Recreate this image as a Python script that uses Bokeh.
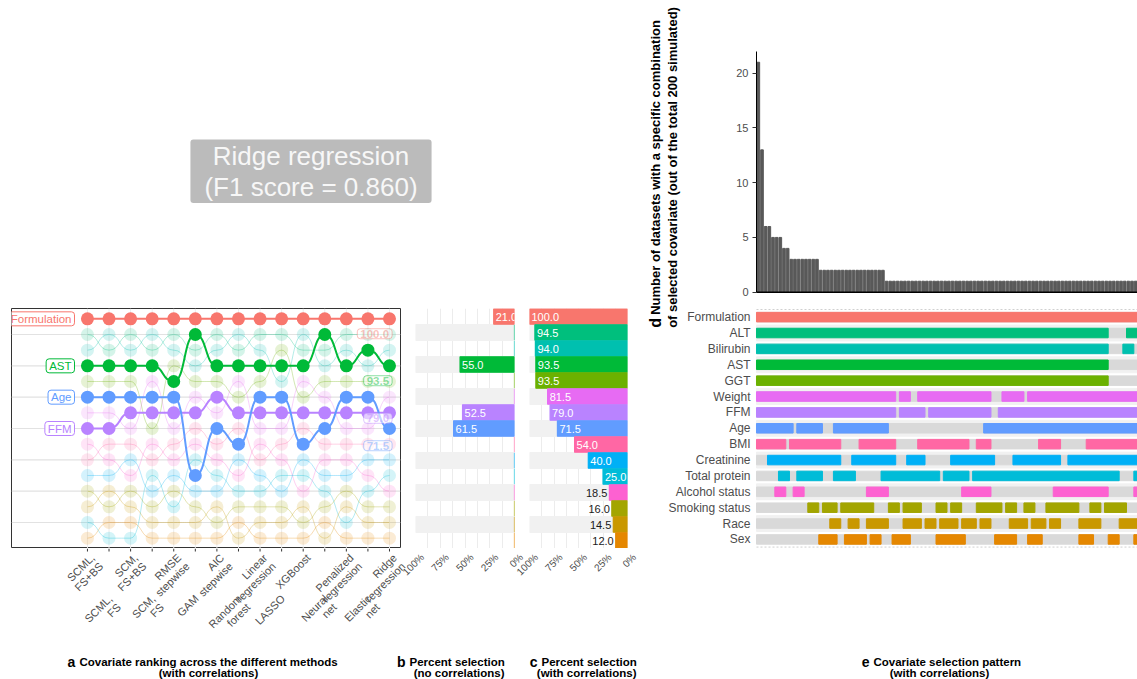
import math
from bokeh.plotting import figure
from bokeh.models import Range1d, Label, Span, FixedTicker, LinearAxis
from bokeh.layouts import row, column
from bokeh.embed import file_html
from bokeh.resources import INLINE
from bokeh.core.properties import value

FONT = "Liberation Sans"
GRAY_TXT = "#4d4d4d"

# ---------------- data ----------------
covariates = ["Formulation", "ALT", "Bilirubin", "AST", "GGT", "Weight", "FFM", "Age",
              "BMI", "Creatinine", "Total protein", "Alcohol status", "Smoking status",
              "Race", "Sex"]
cov_colors = ["#F8766D", "#00BF7D", "#00C0AF", "#00BA38", "#6BB100", "#E76BF3", "#B983FF",
              "#619CFF", "#FF67A4", "#00B0F6", "#00BCD8", "#FD61D1", "#A3A500", "#C99800",
              "#E58700"]
methods = ["SCML,\nFS+BS", "SCML,\nFS", "SCM,\nFS+BS", "SCM,\nFS", "RMSE\nstepwise", "GAM",
           "AIC\nstepwise", "Random\nforest", "Linear\nregression", "LASSO", "XGBoost",
           "Neural\nnet", "Penalized\nregression", "Elastic\nnet", "Ridge\nregression"]

# rank of each covariate for each method (panel a)
ranks = {
    "Formulation":    [1, 1, 1, 1, 1, 1, 1, 1, 1, 1, 1, 1, 1, 1, 1],
    "ALT":            [2, 3, 2, 3, 2, 3, 2, 3, 2, 2, 3, 3, 2, 2, 2],
    "Bilirubin":      [3, 2, 3, 2, 3, 4, 3, 2, 3, 5, 2, 4, 3, 4, 3],
    "AST":            [4, 4, 4, 4, 5, 2, 4, 4, 4, 4, 4, 2, 4, 3, 4],
    "GGT":            [5, 5, 5, 8, 4, 5, 5, 6, 5, 3, 6, 5, 5, 5, 5],
    "Weight":         [7, 7, 8, 5, 8, 6, 7, 5, 8, 8, 5, 6, 8, 8, 6],
    "FFM":            [8, 8, 7, 7, 7, 7, 6, 7, 7, 7, 7, 7, 7, 7, 7],
    "Age":            [6, 6, 6, 6, 6, 11, 8, 9, 6, 6, 9, 8, 6, 6, 8],
    "BMI":            [10, 9, 9, 10, 9, 8, 9, 8, 10, 9, 8, 9, 9, 9, 9],
    "Creatinine":     [11, 11, 10, 12, 11, 12, 12, 10, 11, 12, 10, 11, 11, 10, 10],
    "Total protein":  [14, 15, 15, 11, 13, 10, 11, 12, 12, 11, 11, 12, 14, 12, 11],
    "Alcohol status": [9, 10, 11, 9, 10, 9, 10, 11, 9, 10, 12, 10, 10, 11, 12],
    "Smoking status": [12, 13, 12, 13, 12, 13, 14, 13, 13, 13, 14, 13, 12, 13, 13],
    "Race":           [13, 12, 13, 14, 14, 14, 13, 15, 14, 14, 13, 15, 13, 14, 14],
    "Sex":            [15, 14, 14, 15, 15, 15, 15, 14, 15, 15, 15, 14, 15, 15, 15],
}
highlight = ["Formulation", "AST", "Age", "FFM"]
label_nudge = {"Formulation": 0.95, "AST": 0.95, "Age": 1.1, "FFM": 0.35}

# panel b / c
pct_no_corr = [21.0, 0, 0, 55.0, 0, 0, 52.5, 61.5, 0, 0, 0, 0, 0, 0, 0]
pct_corr = [100.0, 94.5, 94.0, 93.5, 93.5, 81.5, 79.0, 71.5, 54.0, 40.0, 25.0, 18.5,
            16.0, 14.5, 12.0]
pct_ticks = [100, 75, 50, 25, 0]
pct_labels = ["100%", "75%", "50%", "25%", "0%"]

# panel d: datasets per combination
combo_counts = [21, 13, 6, 6, 5, 5, 5, 4, 4,
                3, 3, 3, 3, 3, 3, 3, 3,
                2, 2, 2, 2, 2, 2, 2, 2, 2, 2, 2, 2, 2, 2, 2, 2, 2, 2,
                1, 1, 1, 1, 1, 1, 1, 1, 1, 1, 1, 1, 1, 1, 1, 1, 1, 1, 1, 1, 1, 1, 1,
                1, 1, 1, 1, 1, 1, 1, 1, 1, 1, 1, 1, 1, 1, 1, 1, 1, 1, 1, 1, 1, 1, 1,
                1, 1, 1, 1, 1, 1, 1, 1, 1, 1, 1, 1, 1, 1, 1, 1, 1, 1, 1, 1, 1, 1, 1]
d_ticks = [0, 5, 10, 15, 20]
d_label_1 = "Number of datasets with a specific combination"
d_label_2 = "of selected covariate (out of the total 200 simulated)"

# panel e: selected column runs (start, end) per covariate
sel_segments = {
    "Formulation": [(0, 104)],
    "ALT": [(0, 96), (101, 104)],
    "Bilirubin": [(0, 96), (100, 103)],
    "AST": [(0, 96)],
    "GGT": [(0, 96)],
    "Weight": [(0, 38), (39, 42), (44, 64), (67, 73), (74, 104)],
    "FFM": [(0, 38), (39, 46), (47, 64), (66, 104)],
    "Age": [(0, 10), (11, 18), (21, 36), (62, 104)],
    "BMI": [(0, 8), (9, 23), (28, 38), (44, 58), (60, 64), (77, 83), (90, 104)],
    "Creatinine": [(3, 23), (26, 38), (41, 46), (53, 65), (70, 83), (85, 104)],
    "Total protein": [(6, 9), (11, 18), (21, 27), (34, 50), (51, 58), (59, 99), (103, 104)],
    "Alcohol status": [(5, 8), (10, 13), (30, 36), (56, 64), (81, 96), (103, 104)],
    "Smoking status": [(14, 17), (18, 22), (23, 32), (36, 39), (40, 45), (49, 52), (53, 56),
                       (60, 67), (68, 71), (73, 76), (79, 88), (91, 94), (95, 101)],
    "Race": [(20, 23), (25, 28), (30, 36), (40, 45), (46, 49), (50, 55), (56, 60), (61, 64),
             (69, 74), (75, 79), (80, 83), (88, 94), (99, 104)],
    "Sex": [(17, 22), (24, 30), (31, 34), (37, 42), (49, 57), (65, 71), (74, 78), (88, 92),
            (96, 99), (103, 104)],
}

title_text = "Ridge regression\n(F1 score = 0.860)"

# ---------------- helpers ----------------
def base_fig(w, h, xr, yr, l=0, r=0, t=0, b=0, xloc=None, yloc=None):
    p = figure(width=w, height=h, x_range=xr, y_range=yr, toolbar_location=None,
               output_backend="svg", x_axis_location=xloc, y_axis_location=yloc,
               min_border_left=l, min_border_right=r, min_border_top=t, min_border_bottom=b)
    p.outline_line_color = None
    p.grid.visible = False
    return p

n_cov = len(covariates)
rows = list(range(1, n_cov + 1))
even_rows = [r_ for r_ in rows if r_ % 2 == 0]
cols = list(range(1, len(methods) + 1))

# ---------------- title ----------------
tfig = base_fig(640, 300, Range1d(0, 640), Range1d(-300, 0))
tfig.add_layout(Label(x=310.5, y=-170.8, text=title_text, text_align="center",
                      text_baseline="middle", text_font=FONT, text_font_size="26px",
                      text_color="#f7f7f7", text_line_height=1.05,
                      background_fill_color="#bbbbbb", padding=(14, 1), border_radius=3))

# ---------------- panel a ----------------
fa = base_fig(410, 248, Range1d(-2.52, 15.51), Range1d(15.66, 0.34), l=11, r=10, t=8, b=0)
fa.outline_line_color = "#333333"
fa.outline_line_width = 1
for r_ in even_rows:
    fa.add_layout(Span(location=r_, dimension="width", line_color="#e2e2e2",
                       line_width=1.2, level="underlay"))
for c_ in cols:
    fa.add_layout(Span(location=c_, dimension="height", line_color="#ececec",
                       line_width=1, level="underlay"))

def bump(p, name, color, width, alpha, dot_alpha):
    r = ranks[name]
    x0 = cols[:-1]
    x1 = cols[1:]
    p.bezier(x0=x0, y0=r[:-1], x1=x1, y1=r[1:],
             cx0=[x + 0.55 for x in x0], cy0=r[:-1],
             cx1=[x - 0.55 for x in x1], cy1=r[1:],
             line_color=color, line_width=width, line_alpha=alpha)
    p.scatter(cols, r, size=13, fill_color=color, fill_alpha=dot_alpha, line_color=None)

for i, name in enumerate(covariates):
    if name not in highlight:
        bump(fa, name, cov_colors[i], 1, 0.3, 0.17)
for name in highlight[::-1]:
    i = covariates.index(name)
    bump(fa, name, cov_colors[i], 2, 1.0, 1.0)

for name in highlight:
    i = covariates.index(name)
    fa.add_layout(Label(x=0.4, y=ranks[name][0], text=name, text_align="right",
                        text_baseline="middle", text_font=FONT, text_font_size="11.5px",
                        text_color=cov_colors[i], background_fill_color="white",
                        border_line_color=cov_colors[i], border_line_width=1,
                        padding=(3, 1), border_radius=3))
    fa.add_layout(Label(x=15.12, y=ranks[name][-1] + label_nudge[name],
                        text="%.1f" % pct_corr[i], text_align="right",
                        text_baseline="middle", text_font=FONT, text_font_size="11.5px",
                        text_font_style="bold", text_color=cov_colors[i], text_alpha=0.45,
                        background_fill_color="white", background_fill_alpha=0.6,
                        border_line_color=cov_colors[i], border_line_alpha=0.45,
                        padding=(3, 1), border_radius=3))

# ---------------- panels b and c ----------------
def pct_panel(w, l, r, vals, min_lab, show_small):
    p = base_fig(w, 248, Range1d(100, 0), Range1d(15.5, 0.5), l=l, r=r, t=8, b=0)
    p.xgrid.visible = True
    p.xgrid.ticker = FixedTicker(ticks=[0, 12.5, 25, 37.5, 50, 62.5, 75, 87.5, 100])
    p.xgrid.grid_line_color = "#ececec"
    p.hbar(y=even_rows, left=0, right=100, height=1.0, color="#f1f1f1")
    p.hbar(y=rows, left=0, right=vals, height=0.96, fill_color=cov_colors,
           line_color=cov_colors, line_width=1.2)
    big = [i for i, v in enumerate(vals) if v >= min_lab]
    p.text(x=[vals[i] for i in big], y=[rows[i] for i in big],
           text=["%.1f" % vals[i] for i in big], text_align="left", text_baseline="middle",
           x_offset=2, text_font=value(FONT), text_font_size="11px", text_color="white")
    if show_small:
        small = [i for i, v in enumerate(vals) if 0 < v < min_lab]
        p.text(x=[vals[i] for i in small], y=[rows[i] for i in small],
               text=["%.1f" % vals[i] for i in small], text_align="right",
               text_baseline="middle", x_offset=-2, text_font=value(FONT),
               text_font_size="11px", text_color="#1a1a1a")
    return p

fb = pct_panel(110, 5, 6, pct_no_corr, 5, False)
fc = pct_panel(120, 9, 13, pct_corr, 25, True)

# ---------------- tick-label strip under panels a, b, c ----------------
# one canvas whose x scales line up with the three panels above it
strip = base_fig(640, 90, Range1d(-3.030, 26.634), Range1d(-90, 0))
strip.extra_x_ranges = {"b": Range1d(519.19, -127.27), "c": Range1d(639.80, -13.27)}
strip.segment(x0=cols, y0=[0] * len(cols), x1=cols, y1=[-3] * len(cols),
              line_color="#333333")
up = [c for c in cols if c % 2 == 1]
lo = [c for c in cols if c % 2 == 0]
strip.text(x=up, y=[-3] * len(up), text=[methods[c - 1] for c in up], angle=math.pi / 4,
           x_offset=1, text_align="right", text_baseline="top", text_font=value(FONT),
           text_font_size="11px", text_color=GRAY_TXT, text_line_height=1.0)
strip.text(x=lo, y=[-44] * len(lo), text=[methods[c - 1] for c in lo], angle=math.pi / 4,
           x_offset=-3, text_align="right", text_baseline="top", text_font=value(FONT),
           text_font_size="11px", text_color=GRAY_TXT, text_line_height=1.0)
for rn in ("b", "c"):
    strip.text(x=pct_ticks, y=[-3] * len(pct_ticks), text=pct_labels, angle=math.pi / 4,
               x_offset=3, text_align="right", text_baseline="top",
               text_font=value(FONT), text_font_size="10px", text_color=GRAY_TXT,
               x_range_name=rn)

# captions left
capL = base_fig(640, 41, Range1d(0, 640), Range1d(-41, 0))
def cap_text(p, x, y, s, size="11.5px", align="left"):
    p.text(x=[x], y=[y], text=[s], text_align=align, text_baseline="alphabetic",
           text_font=value(FONT), text_font_size=size, text_font_style="bold",
           text_color="black")
cap_text(capL, 67, -23, "a", "14px")
cap_text(capL, 79, -23, "Covariate ranking across the different methods")
cap_text(capL, 208, -34, "(with correlations)", align="center")
cap_text(capL, 405, -23, "b", "14px", align="right")
cap_text(capL, 409, -23, "Percent selection")
cap_text(capL, 504, -34, "(no correlations)", align="right")
cap_text(capL, 537, -23, "c", "14px", align="right")
cap_text(capL, 541, -23, "Percent selection")
cap_text(capL, 636, -34, "(with correlations)", align="right")

# ---------------- panels d + e (one canvas, two y scales) ----------------
n_combo = len(combo_counts)
combo_x = list(range(n_combo))
left_edge = -0.5
right_edge = n_combo - 0.5
# frame spans the whole canvas; columns start 116 px from its left side
fde = base_fig(497, 560, Range1d(-32.164, right_edge), Range1d(15.57, -18.94),
               l=0, r=0, t=0, b=12)
fde.extra_y_ranges = {"count": Range1d(-23.41, 26.64)}
ay = LinearAxis(y_range_name="count", ticker=FixedTicker(ticks=d_ticks), bounds=(0, 21.98),
                fixed_location=left_edge)
ay.major_label_text_font = FONT
ay.major_label_text_font_size = "11px"
ay.major_label_text_color = GRAY_TXT
ay.axis_line_color = "black"
ay.axis_line_width = 1
ay.major_tick_line_color = "#333333"
ay.major_tick_out = 4
ay.major_tick_in = 0
ay.minor_tick_line_color = None
ay.major_label_standoff = 4
fde.add_layout(ay, "left")

fde.vbar(x=combo_x, top=combo_counts, bottom=0, width=0.72, color="#595959",
         y_range_name="count")
fde.segment(x0=[left_edge], y0=[0], x1=[right_edge], y1=[0], line_color="black",
            line_width=1.5, y_range_name="count")

# y-axis title of panel d (rotated)
fde.text(x=[left_edge, left_edge], y=[11.39, 11.39], x_offset=[-101, -84],
         text=[d_label_1, d_label_2], angle=math.pi / 2, text_align="center",
         text_baseline="middle", text_font=value(FONT), text_font_size="13px",
         text_font_style="bold", text_color="black", y_range_name="count")
fde.text(x=[left_edge], y=[-2.8], x_offset=-101, text=["d"], angle=math.pi / 2,
         text_align="center", text_baseline="middle", text_font=value(FONT),
         text_font_size="16px", text_font_style="bold", text_color="black",
         y_range_name="count")

fde.quad(left=left_edge, right=right_edge, top=[r_ - 0.5 for r_ in even_rows],
         bottom=[r_ + 0.5 for r_ in even_rows], color="#f1f1f1")
fde.quad(left=left_edge, right=right_edge, top=[r_ - 0.3 for r_ in rows],
         bottom=[r_ + 0.3 for r_ in rows], color="#d9d9d9")
for i, name in enumerate(covariates):
    segs = sel_segments[name]
    fde.quad(left=[s - 0.5 for s, e in segs], right=[e - 0.5 for s, e in segs],
             top=[rows[i] - 0.3] * len(segs), bottom=[rows[i] + 0.3] * len(segs),
             color=cov_colors[i])
fde.text(x=[left_edge] * n_cov, y=rows, x_offset=-6, text=covariates, text_align="right",
         text_baseline="middle", text_font=value(FONT), text_font_size="12px",
         text_color=GRAY_TXT)
fde.segment(x0=[left_edge] * 2, y0=[0.52, 15.48], x1=[right_edge] * 2, y1=[0.52, 15.48],
            line_color="#d0d0d0", line_dash="2 2", line_width=1)

capR = base_fig(497, 119, Range1d(0, 497), Range1d(-119, 0))
cap_text(capR, 229, -101, "e", "14px", align="right")
cap_text(capR, 233, -101, "Covariate selection pattern")
cap_text(capR, 299, -112, "(with correlations)", align="center")

# ---------------- layout ----------------
left_block = column(tfig, row(fa, fb, fc), strip, capL)
right_block = column(fde, capR)
layout = row(left_block, right_block)

open("out.html", "w").write(file_html(layout, INLINE))
